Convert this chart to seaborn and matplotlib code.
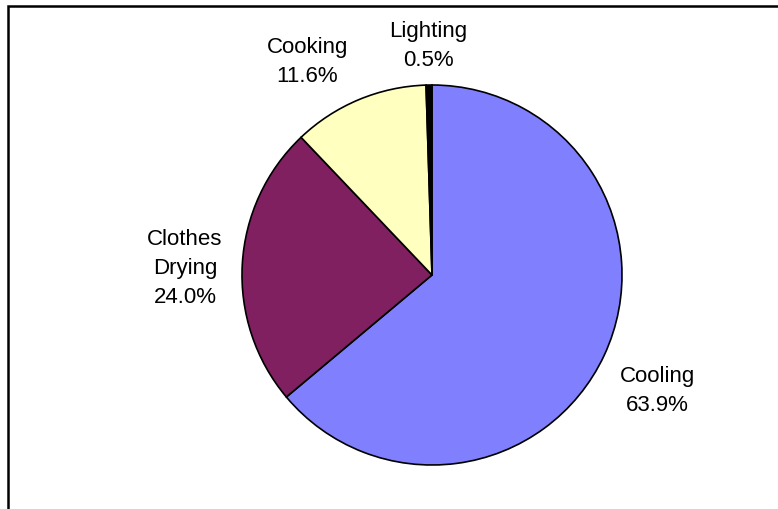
import matplotlib
matplotlib.use("Agg")
import matplotlib.pyplot as plt
import seaborn as sns
from matplotlib.patches import Rectangle

categories = ["Cooling", "Clothes Drying", "Cooking", "Lighting"]
label_text = ["Cooling", "Clothes\nDrying", "Cooking", "Lighting"]
values = [63.9, 24.0, 11.6, 0.5]
colors = ["#8080FF", "#802060", "#FFFFC0", "#000000"]

sns.set_theme(style="white")
plt.rcParams['font.family'] = ['Liberation Sans', 'DejaVu Sans']

W, H = 778, 510
fig = plt.figure(figsize=(W / 100, H / 100), dpi=100)
cx, cy, r = 432, 276, 190
ax = fig.add_axes([(cx - r) / W, (H - cy - r) / H, 2 * r / W, 2 * r / H])

palette = sns.color_palette(colors)
wedges, _ = ax.pie(values, colors=palette, startangle=90, counterclock=False,
                   radius=1.0,
                   wedgeprops=dict(edgecolor="black", linewidth=1.2))
ax.set_xlim(-1, 1)
ax.set_ylim(-1, 1)
ax.set_aspect("equal")
ax.axis("off")

# label positions (in units of radius, relative to centre)
label_pos = [(1.185, -0.605), (-1.30, 0.04), (-0.655, 1.125), (-0.02, 1.21)]
for txt, v, (lx, ly) in zip(label_text, values, label_pos):
    ax.text(lx, ly, f"{txt}\n{v:.1f}%", ha="center", va="center",
            fontsize=16, color="black", linespacing=1.5, clip_on=False)

# border (right and bottom edges fall outside the image)
fig.add_artist(Rectangle((8 / W, -0.2), 1.5, 1.2 - 6.5 / H, transform=fig.transFigure,
                         fill=False, edgecolor="black", linewidth=1.8))

fig.savefig("out.png", dpi=100)
